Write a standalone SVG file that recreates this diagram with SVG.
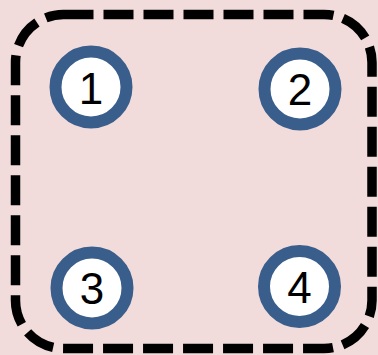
<svg xmlns="http://www.w3.org/2000/svg" width="378" height="355" viewBox="0 0 378 355">
  <style>
    .ring { fill: #ffffff; stroke: #3a5e8c; stroke-width: 12; }
    .num { font-family: "Liberation Sans", Arial, sans-serif; font-size: 44px; fill: #000000; text-anchor: middle; }
    .frame { fill: none; stroke: #000000; stroke-width: 9.5; stroke-dasharray: 30 10; }
  </style>
  <rect width="378" height="355" fill="#f2dcdb"/>
  <g id="connectors">
    <rect class="frame" x="15.5" y="14.5" width="356.5" height="334" rx="48" ry="48"/>
  </g>
  <g id="node1">
    <circle class="ring" cx="91" cy="87" r="35.5"/>
    <text class="num" x="91" y="104">1</text>
  </g>
  <g id="node2">
    <circle class="ring" cx="300" cy="89" r="35.5"/>
    <text class="num" x="300" y="105">2</text>
  </g>
  <g id="node3">
    <circle class="ring" cx="92" cy="288" r="35.5"/>
    <text class="num" x="92" y="304">3</text>
  </g>
  <g id="node4">
    <circle class="ring" cx="299.5" cy="286.5" r="35.5"/>
    <text class="num" x="299.5" y="303">4</text>
  </g>
</svg>
